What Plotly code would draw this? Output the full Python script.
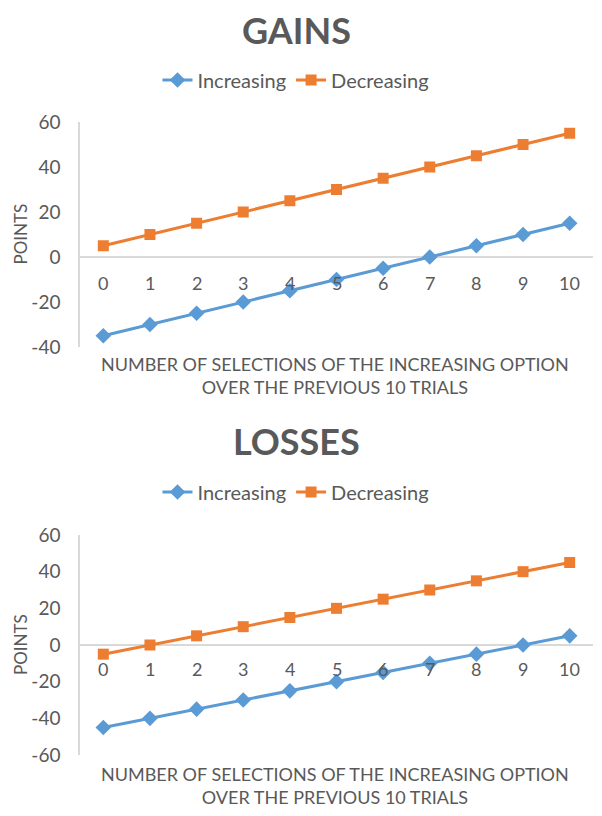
import plotly.graph_objects as go

categories = [0, 1, 2, 3, 4, 5, 6, 7, 8, 9, 10]
tick_labels = ["0", "1", "2", "3", "4", "5", "6", "7", "8", "9", "10"]
gains_increasing = [-35, -30, -25, -20, -15, -10, -5, 0, 5, 10, 15]
gains_decreasing = [5, 10, 15, 20, 25, 30, 35, 40, 45, 50, 55]
losses_increasing = [-45, -40, -35, -30, -25, -20, -15, -10, -5, 0, 5]
losses_decreasing = [-5, 0, 5, 10, 15, 20, 25, 30, 35, 40, 45]
gains_yticks = [-40, -20, 0, 20, 40, 60]
losses_yticks = [-60, -40, -20, 0, 20, 40, 60]
panel_titles = ["GAINS", "LOSSES"]
series_names = ["Increasing", "Decreasing"]
x_title = "NUMBER OF SELECTIONS OF THE INCREASING OPTION<br>OVER THE PREVIOUS 10 TRIALS"
y_title = "POINTS"

BLUE = "#5B9BD5"
ORANGE = "#ED7D31"
GRAY = "#595959"
LGRAY = "#D9D9D9"
FONT = "Lato"
OFF = 8          # page body margin
W = 602 - OFF
H = 816 - OFF

def py(px):
    return 1 - (px - OFF) / H

def pxx(px):
    return (px - OFF) / W

fig = go.Figure()

panels = [
    dict(inc=gains_increasing, dec=gains_decreasing, xa="x", ya="y", legend="legend",
         top=122, bot=347, title_y=30, leg_y=80, lab_shift=-26, xt1=363),
    dict(inc=losses_increasing, dec=losses_decreasing, xa="x2", ya="y2", legend="legend2",
         top=535, bot=755, title_y=441, leg_y=492, lab_shift=-24, xt1=773),
]

annotations = []
for i, p in enumerate(panels):
    fig.add_trace(go.Scatter(x=categories, y=p["inc"], name=series_names[0], mode="lines+markers",
                             line=dict(color=BLUE, width=3),
                             marker=dict(symbol="diamond", size=12, color=BLUE),
                             xaxis=p["xa"], yaxis=p["ya"], legend=p["legend"]))
    fig.add_trace(go.Scatter(x=categories, y=p["dec"], name=series_names[1], mode="lines+markers",
                             line=dict(color=ORANGE, width=3),
                             marker=dict(symbol="square", size=11, color=ORANGE),
                             xaxis=p["xa"], yaxis=p["ya"], legend=p["legend"]))
    annotations.append(dict(text="<b>%s</b>" % panel_titles[i], x=pxx(296), y=py(p["title_y"]),
                            xref="paper", yref="paper", showarrow=False,
                            font=dict(size=36, color=GRAY, family=FONT), xanchor="center", yanchor="middle"))
    for c, t in zip(categories, tick_labels):
        annotations.append(dict(text=t, x=c, y=0, xref=p["xa"], yref=p["ya"], showarrow=False,
                                yshift=p["lab_shift"], font=dict(size=18, color=GRAY, family=FONT),
                                xanchor="center", yanchor="middle"))
    annotations.append(dict(text=x_title, x=pxx(335), y=py(p["xt1"] - 12), xref="paper", yref="paper",
                            showarrow=False, align="center", font=dict(size=18, color=GRAY, family=FONT),
                            xanchor="center", yanchor="top"))
    annotations.append(dict(text=y_title, x=pxx(20), y=py((p["top"] + p["bot"]) / 2), xref="paper",
                            yref="paper", showarrow=False, textangle=-90,
                            font=dict(size=17, color=GRAY, family=FONT), xanchor="center", yanchor="middle"))

xdom = [pxx(80), pxx(593)]
common_x = dict(domain=xdom, range=[-0.5, 10.5], showgrid=False, zeroline=False,
                showticklabels=False, showline=False, ticks="")
common_y = dict(showgrid=False, zeroline=True, zerolinecolor=LGRAY, zerolinewidth=1.5,
                showline=True, linecolor=LGRAY, linewidth=1.5, ticks="",
                tickfont=dict(size=19, color=GRAY, family=FONT), ticklabelstandoff=14)
fig.update_layout(
    width=W, height=H, margin=dict(l=0, r=0, t=0, b=0, autoexpand=False),
    plot_bgcolor="white", paper_bgcolor="white",
    font=dict(family=FONT, color=GRAY),
    xaxis=dict(**common_x, anchor="y"),
    xaxis2=dict(**common_x, anchor="y2"),
    yaxis=dict(**common_y, domain=[py(347), py(122)], range=[-40, 60],
               tickvals=gains_yticks, ticktext=[str(v) for v in gains_yticks], anchor="x"),
    yaxis2=dict(**common_y, domain=[py(755), py(535)], range=[-60, 60],
                tickvals=losses_yticks, ticktext=[str(v) for v in losses_yticks], anchor="x2"),
    legend=dict(orientation="h", x=pxx(296), xanchor="center", y=py(80), yanchor="middle",
                font=dict(size=20, color=GRAY, family=FONT), bgcolor="rgba(0,0,0,0)"),
    legend2=dict(orientation="h", x=pxx(296), xanchor="center", y=py(492), yanchor="middle",
                 font=dict(size=20, color=GRAY, family=FONT), bgcolor="rgba(0,0,0,0)"),
    annotations=annotations,
    showlegend=True,
)

fig.write_html("out.html")
